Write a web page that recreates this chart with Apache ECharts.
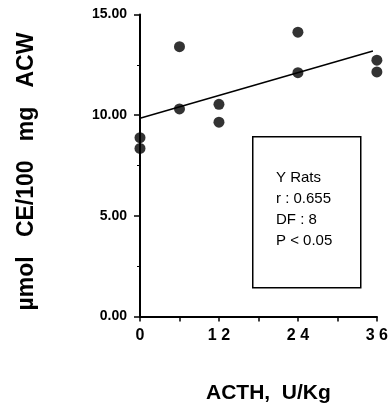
<!DOCTYPE html>
<html>
<head>
<meta charset="utf-8">
<script src="https://cdn.jsdelivr.net/npm/echarts@6/dist/echarts.min.js"></script>
<style>
  html, body { margin: 0; padding: 0; background: #fff; }
  #chart { width: 391px; height: 412px; }
</style>
</head>
<body>
<div id="chart"></div>
<script>
// ---- data ----
const doseX = [0, 0, 6, 6, 12, 12, 24, 24, 36, 36];
const ceY = [8.88, 8.35, 13.40, 10.31, 10.54, 9.65, 14.12, 12.11, 12.73, 12.15];
const fitX = [0, 35.4];
const fitY = [9.85, 13.19];
const xTickValues = [0, 12, 24, 36];
const xTickLabels = ['0', '1 2', '2 4', '3 6'];
const yTickValues = [0, 5, 10, 15];
const statLines = ['Y Rats', 'r : 0.655', 'DF : 8', 'P < 0.05'];
const xTitle = 'ACTH,  U/Kg';
const yTitle = 'µmol   CE/100   mg   ACW';

const FONT = '"Liberation Sans", Arial, Helvetica, sans-serif';
const chart = echarts.init(document.getElementById('chart'), null, { renderer: 'canvas' });

const points = doseX.map((x, i) => [x, ceY[i]]);
const fit = fitX.map((x, i) => [x, fitY[i]]);

const option = {
  backgroundColor: '#ffffff',
  animation: false,
  grid: { left: 140, right: 11, top: 14.5, bottom: 95.5, containLabel: false },
  xAxis: {
    type: 'value', min: 0, max: 36, interval: 6,
    name: xTitle, nameLocation: 'middle', nameGap: 66,
    nameTextStyle: { fontFamily: FONT, fontSize: 21, fontWeight: 'bold', color: '#000', padding: [0, 0, 0, 20] },
    axisLine: { show: true, lineStyle: { color: '#000', width: 2 } },
    axisTick: { show: true, length: 5, lineStyle: { color: '#000', width: 1.5 } },
    splitLine: { show: false },
    axisLabel: {
      margin: 11, fontFamily: FONT, fontSize: 16, fontWeight: 'bold', color: '#000',
      formatter: v => { const k = xTickValues.indexOf(v); return k >= 0 ? xTickLabels[k] : ''; }
    }
  },
  yAxis: {
    type: 'value', min: 0, max: 15, interval: 5,
    name: yTitle, nameLocation: 'middle', nameGap: 102,
    nameTextStyle: { fontFamily: FONT, fontSize: 23, fontWeight: 'bold', color: '#000', padding: [0, 12, 0, 0] },
    axisLine: { show: true, lineStyle: { color: '#000', width: 2 } },
    axisTick: { show: true, length: 6, lineStyle: { color: '#000', width: 1.5 } },
    minorTick: { show: true, splitNumber: 2, length: 3, lineStyle: { color: '#000', width: 1 } },
    splitLine: { show: false },
    axisLabel: {
      margin: 13, fontFamily: FONT, fontSize: 14, fontWeight: 'bold', color: '#000',
      formatter: v => yTickValues.indexOf(v) >= 0 ? v.toFixed(2) : ''
    }
  },
  series: [
    {
      type: 'line', data: fit, symbol: 'none', clip: false,
      lineStyle: { color: '#000', width: 1.5 }, z: 2
    },
    {
      type: 'scatter', data: points, symbol: 'circle', symbolSize: 11, clip: false,
      itemStyle: { color: '#000' }, z: 3
    }
  ],
  graphic: [
    {
      type: 'rect', left: 252, top: 136,
      shape: { width: 108, height: 151 },
      style: { fill: '#fff', stroke: '#000', lineWidth: 1.5 }, z: 10
    },
    ...statLines.map((t, i) => ({
      type: 'text', left: 276, top: 170 + i * 21,
      style: { text: t, fontFamily: FONT, fontSize: 15, fill: '#000' }, z: 11
    }))
  ]
};
chart.setOption(option);
</script>
</body>
</html>
